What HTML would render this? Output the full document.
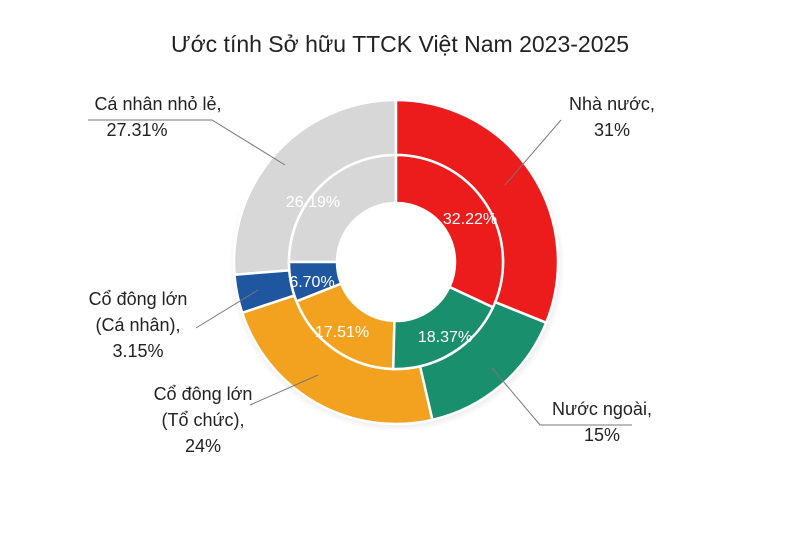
<!DOCTYPE html>
<html><head><meta charset="utf-8"><style>
html,body{margin:0;padding:0;background:#fff;}
svg{display:block;font-family:"Liberation Sans","DejaVu Sans",sans-serif;}
</style></head><body>
<svg width="800" height="533" viewBox="0 0 800 533" xmlns="http://www.w3.org/2000/svg">
<rect width="800" height="533" fill="#fff"/>
<defs>
<radialGradient id="sh" cx="0.5" cy="0.5" r="0.5"><stop offset="0.9" stop-color="#000" stop-opacity="0.15"/><stop offset="1" stop-color="#000" stop-opacity="0"/></radialGradient>
</defs>
<text x="400" y="52" text-anchor="middle" font-size="23" fill="#222">Ước tính Sở hữu TTCK Việt Nam 2023-2025</text>
<ellipse cx="397" cy="266" rx="168" ry="166" fill="url(#sh)"/>
<circle cx="396" cy="262" r="110" fill="#fff"/>
<g id="rings" stroke="#fff" stroke-width="2.5"></g>
<g fill="none" stroke="#777" stroke-width="1">
<polyline points="88,120 212,120 285,165"/>
<polyline points="561,120 505,185"/>
<polyline points="196,328 258,290"/>
<polyline points="250,405 318,375"/>
<polyline points="632,425 540,425 492,368"/>
</g>
<g font-size="18" fill="#222">
<text x="158" y="110" text-anchor="middle">Cá nhân nhỏ lẻ,</text>
<text x="137" y="136" text-anchor="middle">27.31%</text>
<text x="612" y="110" text-anchor="middle">Nhà nước,</text>
<text x="612" y="136" text-anchor="middle">31%</text>
<text x="138" y="305" text-anchor="middle">Cổ đông lớn</text>
<text x="138" y="331" text-anchor="middle">(Cá nhân),</text>
<text x="138" y="357" text-anchor="middle">3.15%</text>
<text x="203" y="400" text-anchor="middle">Cổ đông lớn</text>
<text x="203" y="426" text-anchor="middle">(Tổ chức),</text>
<text x="203" y="452" text-anchor="middle">24%</text>
<text x="602" y="415" text-anchor="middle">Nước ngoài,</text>
<text x="602" y="441" text-anchor="middle">15%</text>
</g>
<g font-size="16" fill="#fff">
<text x="313" y="207" text-anchor="middle">26.19%</text>
<text x="470" y="224" text-anchor="middle">32.22%</text>
<text x="312" y="287" text-anchor="middle">6.70%</text>
<text x="342" y="337" text-anchor="middle">17.51%</text>
<text x="445" y="342" text-anchor="middle">18.37%</text>
</g>
<script>
(function(){
var cx=396,cy=262,g=document.getElementById('rings'),ns="http://www.w3.org/2000/svg";
function pt(r,a){a=a*Math.PI/180;return [cx+r*Math.sin(a),cy-r*Math.cos(a)];}
function arc(r0,r1,a0,a1,col){
 var p1=pt(r1,a0),p2=pt(r1,a1),p3=pt(r0,a1),p4=pt(r0,a0),l=(a1-a0>180)?1:0;
 var d="M"+p1+" A"+r1+","+r1+" 0 "+l+" 1 "+p2+" L"+p3+" A"+r0+","+r0+" 0 "+l+" 0 "+p4+"Z";
 var e=document.createElementNS(ns,'path');e.setAttribute('d',d);e.setAttribute('fill',col);g.insertBefore(e,g.firstChild);}
var outer=[[0,112,'#ec1c1c'],[112,167,'#1a8f6e'],[167,251.7,'#f2a21e'],[251.7,265.5,'#1e56a0'],[265.5,360,'#d7d7d7']];
var inner=[[0,115,'#ec1c1c'],[115,181.5,'#1a8f6e'],[181.5,248.4,'#f2a21e'],[248.4,270,'#1e56a0'],[270,360,'#d7d7d7']];
inner.forEach(function(s){arc(59,107,s[0],s[1],s[2]);});
outer.forEach(function(s){arc(107,162,s[0],s[1],s[2]);});
})();
</script>
</svg>
</body></html>
